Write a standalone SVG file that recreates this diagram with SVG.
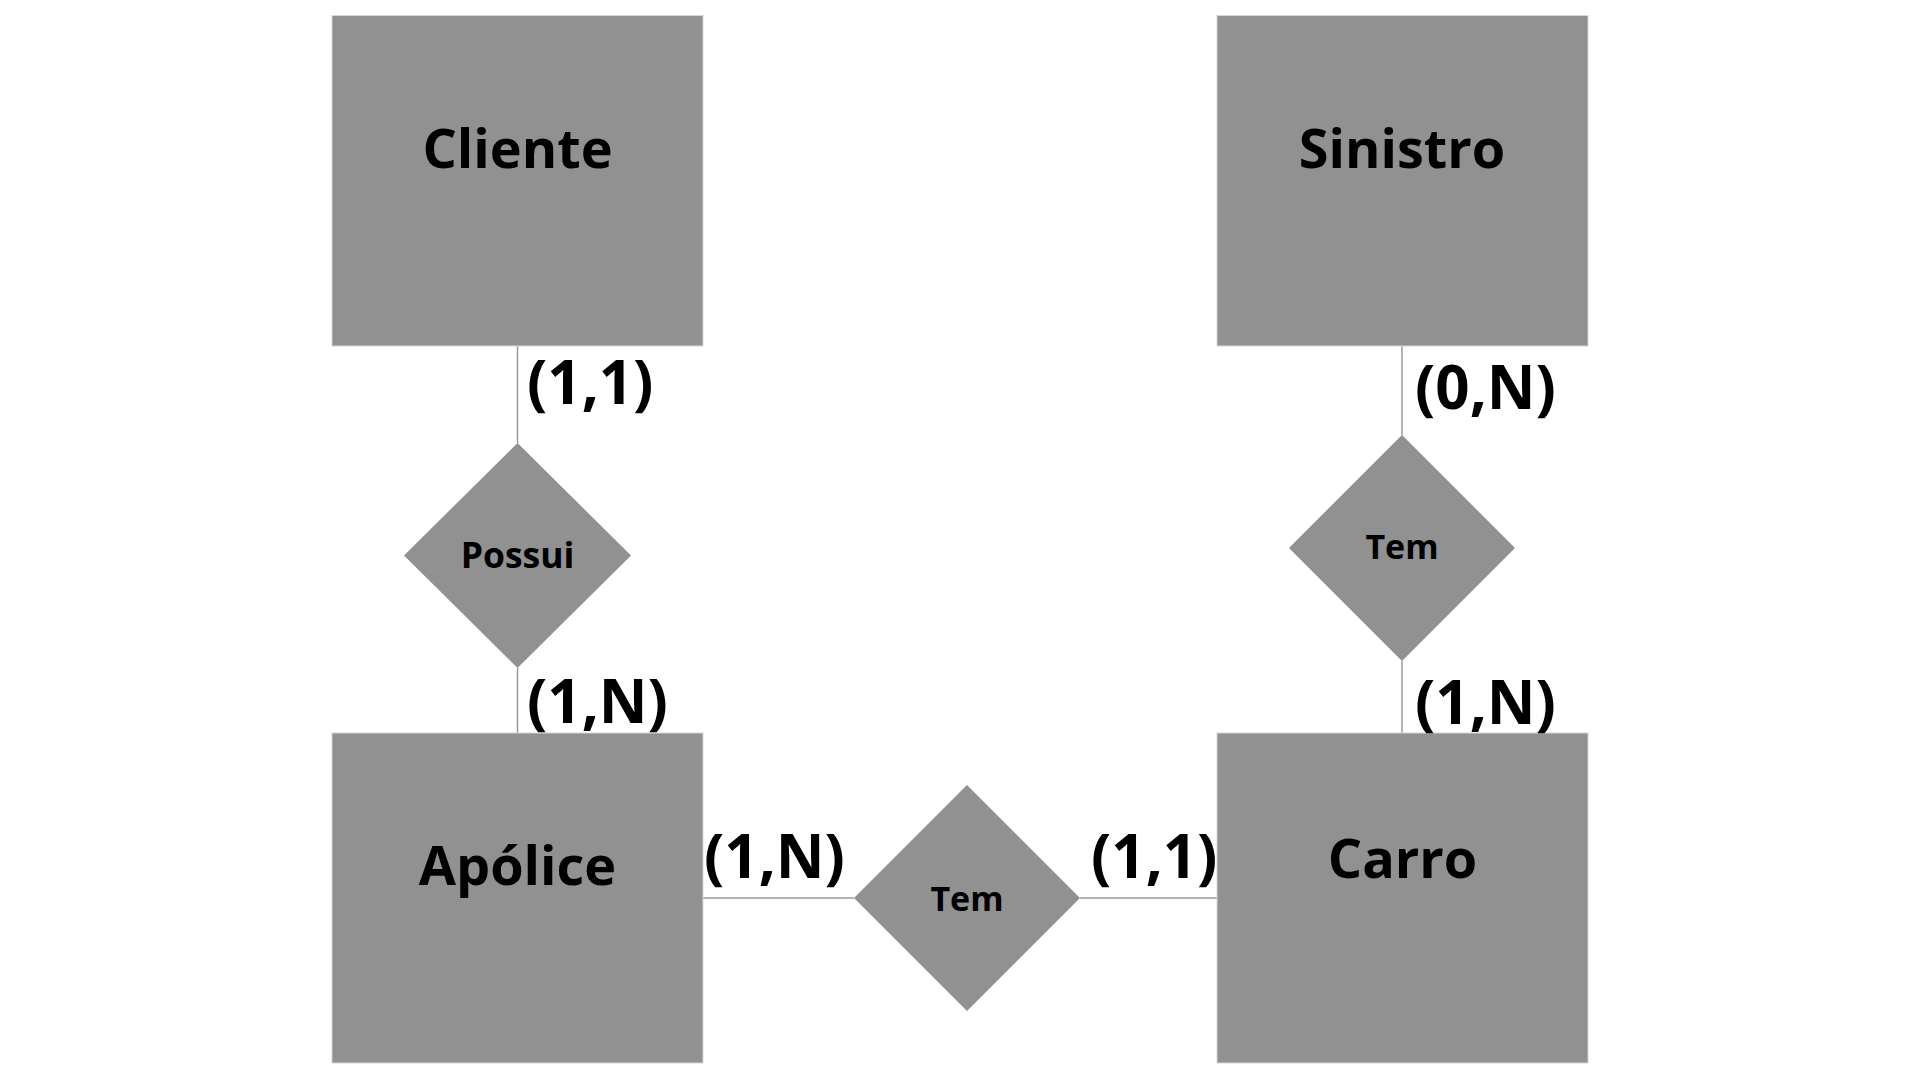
<svg xmlns="http://www.w3.org/2000/svg" width="1920" height="1080" viewBox="0 0 1920 1080">
<style>
.ent{fill:#919191;stroke:#d6d6d6;stroke-width:1}
.rel{fill:#919191}
.conn{stroke:#9a9a9a;stroke-width:1.5;fill:none}
.t{font-family:"Open Sans","Noto Sans","DejaVu Sans",sans-serif;font-weight:700;fill:#000}
.big{font-size:54px;text-anchor:middle}
.small{font-size:34px;text-anchor:middle}
.card{font-size:60px}
</style>
<rect width="1920" height="1080" fill="#ffffff"/>
<g id="connectors">
<line class="conn" x1="517.5" y1="346" x2="517.5" y2="443"/>
<line class="conn" x1="517.5" y1="668" x2="517.5" y2="733"/>
<line class="conn" x1="1402" y1="346" x2="1402" y2="435"/>
<line class="conn" x1="1402" y1="661" x2="1402" y2="733"/>
<line class="conn" x1="703" y1="898" x2="854" y2="898"/>
<line class="conn" x1="1080" y1="898" x2="1217" y2="898"/>
</g>
<g id="cliente">
<rect class="ent" x="332" y="15.5" width="371" height="330.5"/>
<text class="t big" x="517.5" y="168">Cliente</text>
</g>
<g id="sinistro">
<rect class="ent" x="1217" y="15.5" width="371" height="330.5"/>
<text class="t big" x="1402" y="168">Sinistro</text>
</g>
<g id="apolice">
<rect class="ent" x="332" y="733" width="371" height="330"/>
<text class="t big" x="517.5" y="885">Apólice</text>
</g>
<g id="carro">
<rect class="ent" x="1217" y="733" width="371" height="330"/>
<text class="t big" x="1402.5" y="878">Carro</text>
</g>
<g id="possui">
<polygon class="rel" points="517.5,443 631,555.5 517.5,668 404,555.5"/>
<text class="t small" x="517.5" y="568" style="font-size:35.5px">Possui</text>
</g>
<g id="tem-sinistro">
<polygon class="rel" points="1402,435 1515,548 1402,661 1289,548"/>
<text class="t small" x="1402" y="559">Tem</text>
</g>
<g id="tem-carro">
<polygon class="rel" points="967,785 1080,898 967,1011 854,898"/>
<text class="t small" x="967" y="911">Tem</text>
</g>
<g id="cardinalities">
<text class="t card" x="527" y="404">(1,1)</text>
<text class="t card" x="527" y="723">(1,N)</text>
<text class="t card" x="1415" y="409">(0,N)</text>
<text class="t card" x="1415" y="724">(1,N)</text>
<text class="t card" x="704" y="878">(1,N)</text>
<text class="t card" x="1091" y="878">(1,1)</text>
</g>
</svg>
